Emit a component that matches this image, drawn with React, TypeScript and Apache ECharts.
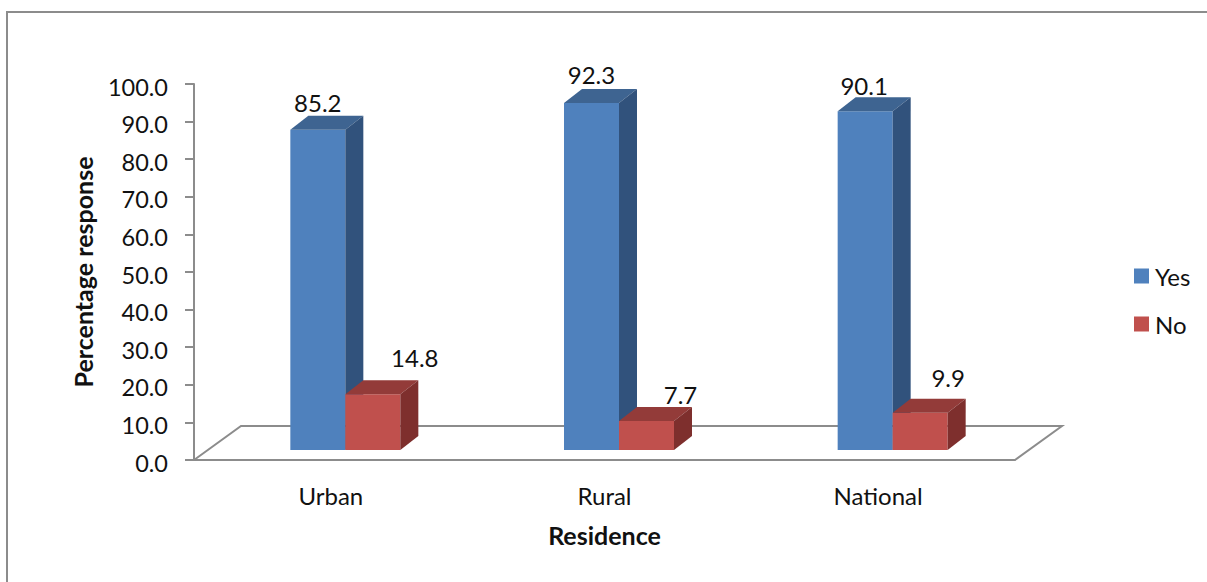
import React, { useEffect, useRef } from "react";
import * as echarts from "echarts";

const categories = ["Urban", "Rural", "National"];
const yesValues = [85.2, 92.3, 90.1];
const noValues = [14.8, 7.7, 9.9];
const yesName = "Yes";
const noName = "No";
const xAxisTitle = "Residence";
const yAxisTitle = "Percentage response";

const FONT = "Lato";
const AXIS_COLOR = "#8c8c8c";
const TEXT_COLOR = "#111111";
const BAR_WIDTH = 55;
const DEPTH_X = 18;
const DEPTH_Y = 14;
const BASE_LIFT = 10;
const GROUP_SHIFT = 14.5;

const yesLabelOffsets = [[0, -27], [0, -28], [-1, -26]];
const noLabelOffsets = [[42, -37], [34, -27], [28, -35]];

function barRenderer(
  side: number,
  colors: { front: string; top: string; right: string },
  offsets: number[][]
) {
  return (_params: any, api: any) => {
    const idx = api.value(0);
    const val = api.value(1);
    const topPt = api.coord([idx, val]);
    const basePt = api.coord([idx, 0]);
    const x0 = topPt[0] + GROUP_SHIFT + (side < 0 ? -BAR_WIDTH : 0);
    const x1 = x0 + BAR_WIDTH;
    const yTop = topPt[1] - BASE_LIFT;
    const yBase = basePt[1] - BASE_LIFT;
    const off = offsets[idx];
    return {
      type: "group",
      children: [
        {
          type: "polygon",
          shape: { points: [[x0, yTop], [x1, yTop], [x1, yBase], [x0, yBase]] },
          style: { fill: colors.front },
        },
        {
          type: "polygon",
          shape: { points: [[x0, yTop], [x0 + DEPTH_X, yTop - DEPTH_Y], [x1 + DEPTH_X, yTop - DEPTH_Y], [x1, yTop]] },
          style: { fill: colors.top },
        },
        {
          type: "polygon",
          shape: { points: [[x1, yTop], [x1 + DEPTH_X, yTop - DEPTH_Y], [x1 + DEPTH_X, yBase - DEPTH_Y], [x1, yBase]] },
          style: { fill: colors.right },
        },
        {
          type: "text",
          style: {
            x: (x0 + x1) / 2 + off[0],
            y: yTop + off[1],
            text: val.toFixed(1),
            fill: TEXT_COLOR,
            font: `24px ${FONT}`,
            align: "center",
            verticalAlign: "middle",
          },
        },
      ],
    };
  };
}

function floorRenderer(params: any) {
  const { x, y, width, height } = params.coordSys;
  const dx = 47;
  const dy = 34;
  return {
    type: "polyline",
    shape: { points: [[x, y + height], [x + dx, y + height - dy], [x + width + dx, y + height - dy], [x + width, y + height]] },
    style: { stroke: AXIS_COLOR, lineWidth: 2, fill: "none" },
  };
}

export default function App() {
  const ref = useRef<HTMLDivElement>(null);
  useEffect(() => {
    document.body.style.margin = "0";
    const chart = echarts.init(ref.current!, undefined, { renderer: "svg" });
    chart.setOption({
      animation: false,
      backgroundColor: "#ffffff",
      textStyle: { fontFamily: FONT },
      grid: { left: 194, right: 192, top: 84, bottom: 122 },
      graphic: [
        {
          type: "rect",
          shape: { x: 7, y: 12, width: 1400, height: 800 },
          style: { fill: "none", stroke: AXIS_COLOR, lineWidth: 2 },
          silent: true,
          z: -1,
        },
      ],
      legend: {
        data: [yesName, noName],
        orient: "vertical",
        left: 1134,
        top: 264,
        padding: 0,
        itemWidth: 15,
        itemHeight: 15,
        itemGap: 24,
        icon: "rect",
        textStyle: { fontFamily: FONT, fontSize: 24, color: TEXT_COLOR, padding: [0, 0, 3, 1] },
      },
      xAxis: {
        type: "category",
        data: categories,
        boundaryGap: true,
        axisLine: { show: true, lineStyle: { color: AXIS_COLOR, width: 2 } },
        axisTick: { show: false },
        axisLabel: { fontFamily: FONT, fontSize: 24, color: TEXT_COLOR, margin: 23 },
        name: xAxisTitle,
        nameLocation: "middle",
        nameGap: 62,
        nameTextStyle: { fontFamily: FONT, fontSize: 25, fontWeight: "bold", color: TEXT_COLOR },
      },
      yAxis: {
        type: "value",
        min: 0,
        max: 100,
        interval: 10,
        splitLine: { show: false },
        axisLine: { show: true, lineStyle: { color: AXIS_COLOR, width: 2 } },
        axisTick: { show: true, length: 9, lineStyle: { color: AXIS_COLOR, width: 2 } },
        axisLabel: {
          margin: 26,
          formatter: (v: number) => `{t|${v.toFixed(1)}}`,
          rich: { t: { fontFamily: FONT, fontSize: 23.5, color: TEXT_COLOR, padding: [5, 0, 0, 0] } },
        },
        name: yAxisTitle,
        nameLocation: "middle",
        nameGap: 99,
        nameTextStyle: { fontFamily: FONT, fontSize: 25, fontWeight: "bold", color: TEXT_COLOR },
      },
      series: [
        {
          type: "custom",
          name: "floor",
          silent: true,
          renderItem: floorRenderer,
          data: [[0, 0]],
          encode: { x: 0, y: 1 },
          clip: false,
          z: 1,
        },
        {
          type: "custom",
          name: yesName,
          renderItem: barRenderer(-1, { front: "#4f81bd", top: "#3e6491", right: "#31527c" }, yesLabelOffsets),
          data: yesValues.map((v, i) => [i, v]),
          encode: { x: 0, y: 1 },
          itemStyle: { color: "#4f81bd" },
          clip: false,
          z: 2,
        },
        {
          type: "custom",
          name: noName,
          renderItem: barRenderer(1, { front: "#c0504d", top: "#933b39", right: "#7e2f2d" }, noLabelOffsets),
          data: noValues.map((v, i) => [i, v]),
          encode: { x: 0, y: 1 },
          itemStyle: { color: "#c0504d" },
          clip: false,
          z: 3,
        },
      ],
    });
    return () => chart.dispose();
  }, []);
  return <div ref={ref} style={{ position: "absolute", left: 0, top: 0, width: 1207, height: 582 }} />;
}
